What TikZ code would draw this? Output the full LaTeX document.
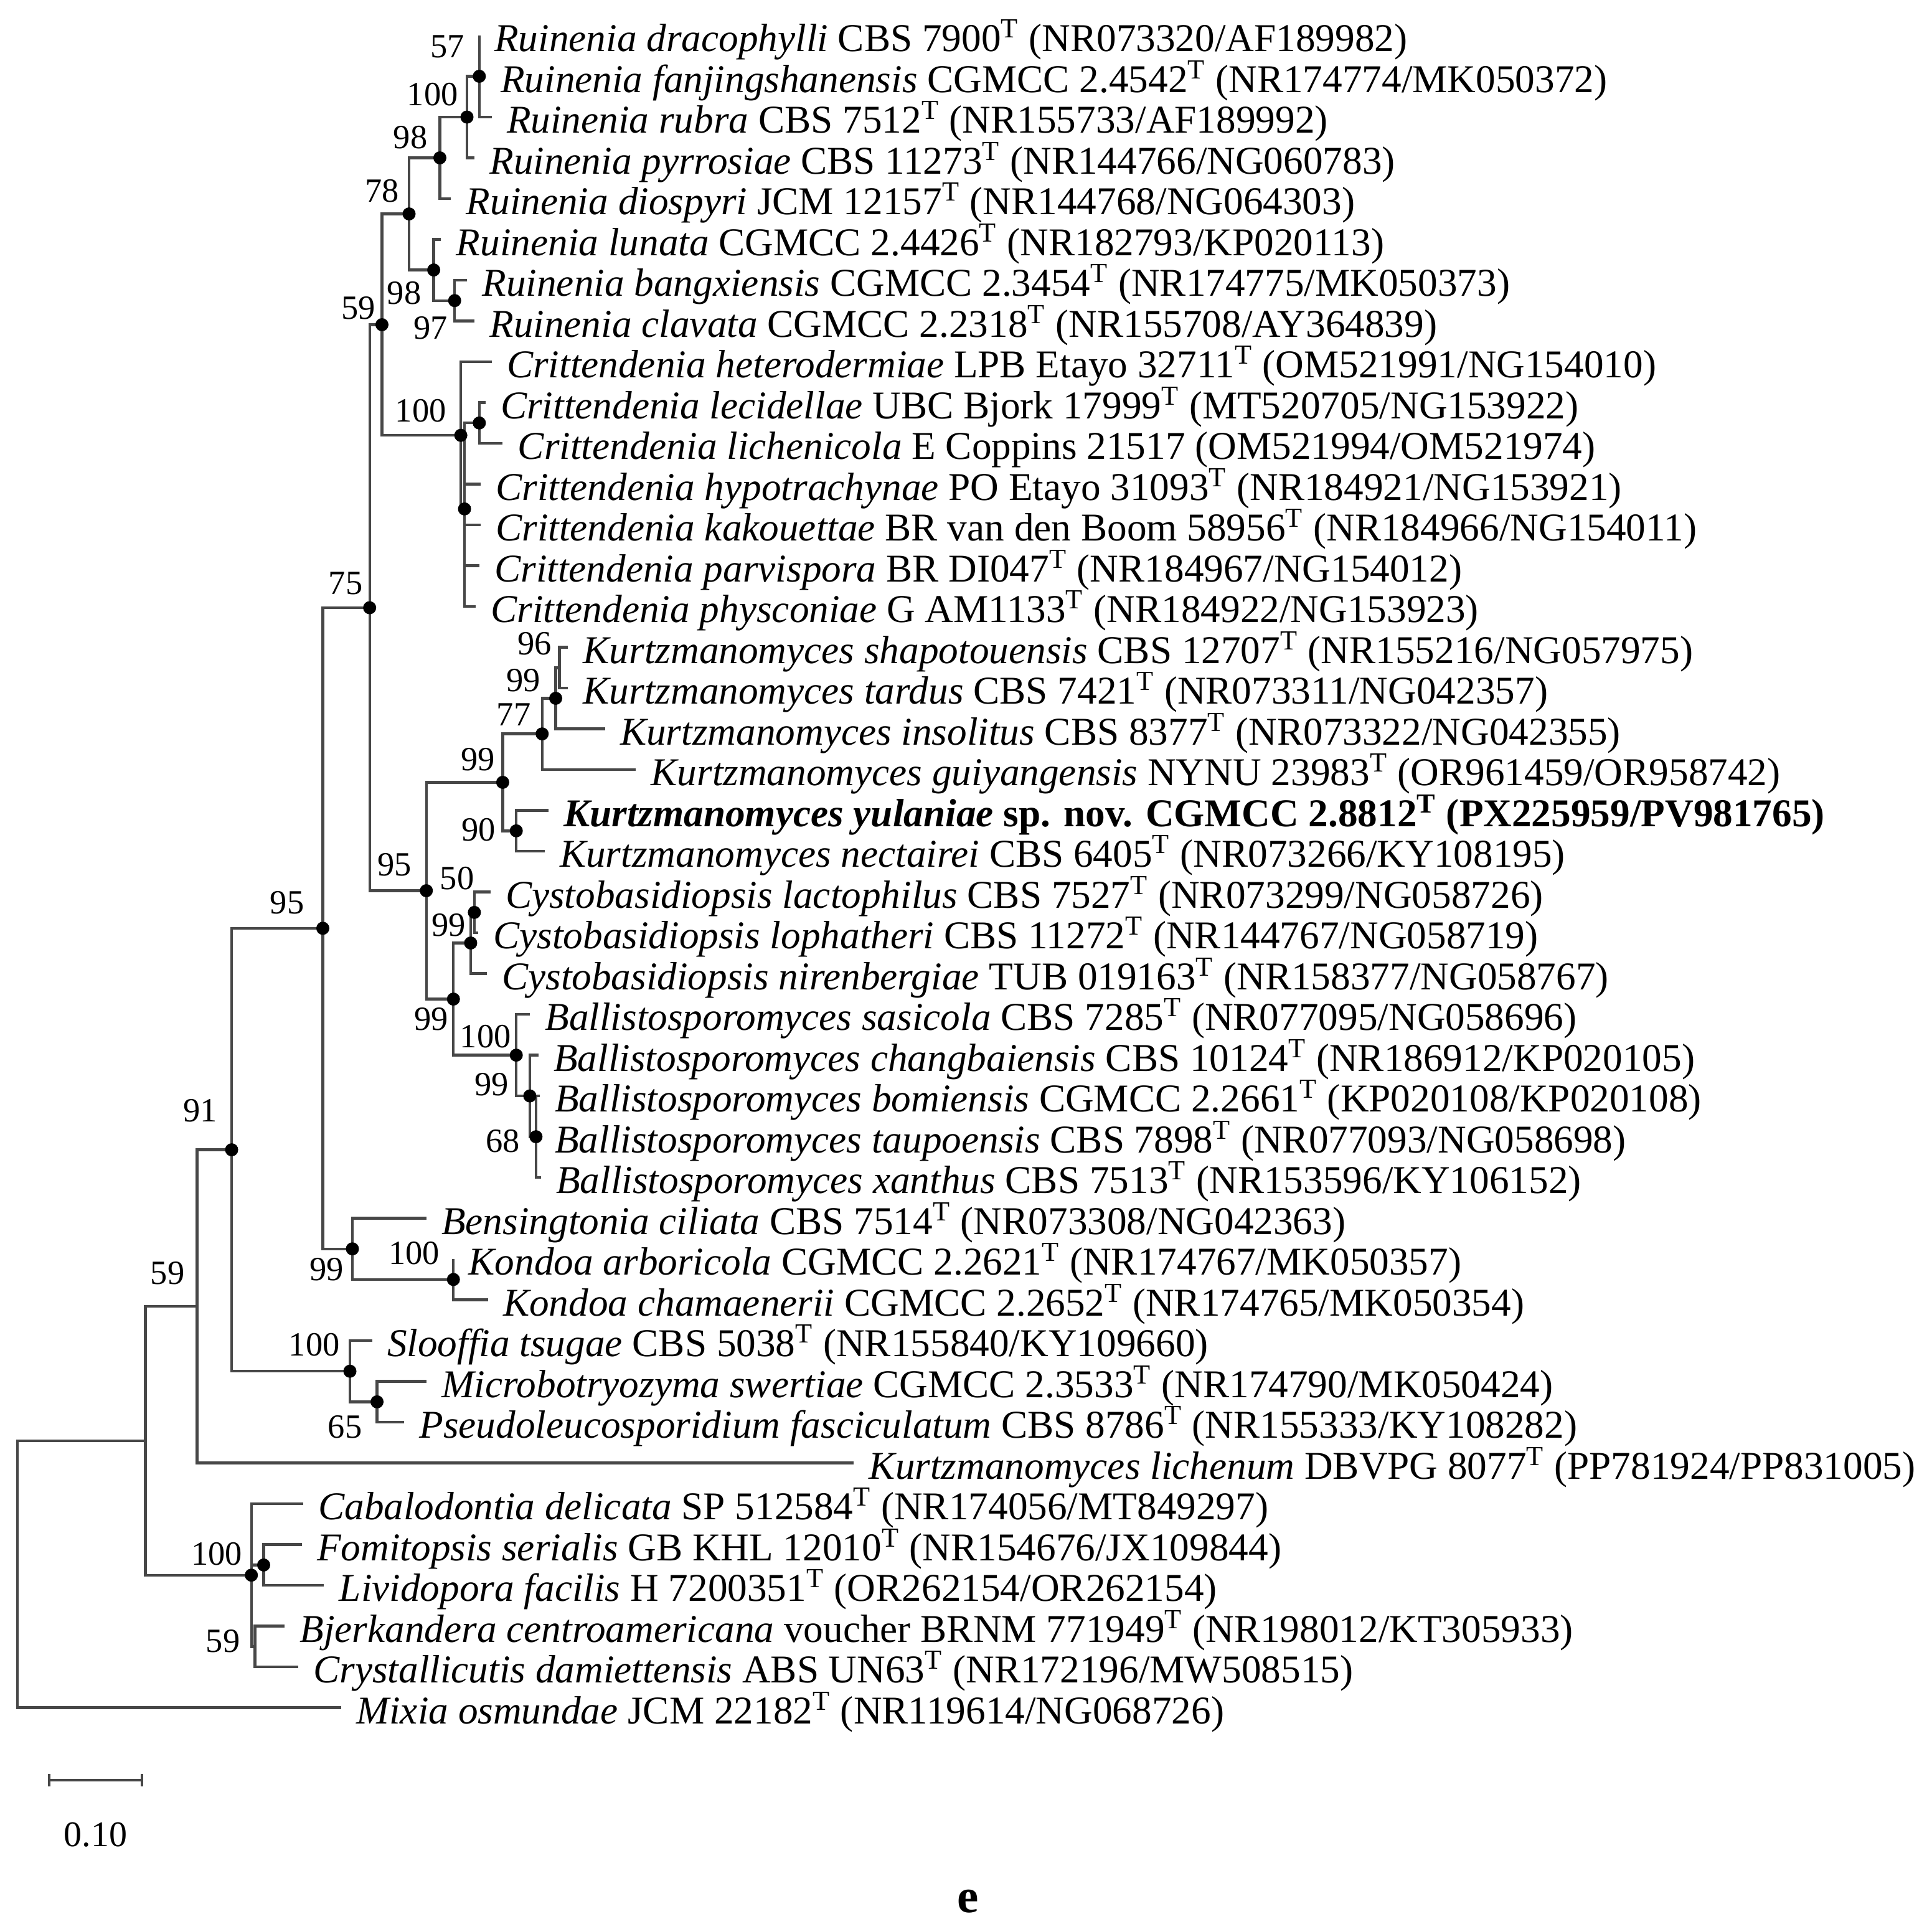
\documentclass[tikz,border=0pt]{standalone}
\usepackage{fontspec}
\setmainfont{Liberation Serif}
\usetikzlibrary{arrows.meta}
\newcommand{\typT}{\textsuperscript{T}}

\begin{document}
\begin{tikzpicture}[x=0.01979cm, y=-0.01979cm,
	branch/.style={draw=black!72, line width=1.25pt},
	taxon/.style={anchor=base west, inner sep=0pt, xshift=0.2375cm, yshift=-0.257cm, font=\fontsize{18}{20}\selectfont},
	support/.style={inner sep=0pt, font=\fontsize{15.5}{17}\selectfont},
	nodedot/.style={fill=black}]
	\fill[white] (0,0) rectangle (1568,1561);
	\useasboundingbox (0,0) rectangle (1568,1561);

	% tips
	\coordinate (t1) at (389,28.8);
	\coordinate (t2) at (394,61.9);
	\coordinate (t3) at (399,95.0);
	\coordinate (t4) at (385,128.1);
	\coordinate (t5) at (366,161.2);
	\coordinate (t6) at (358,194.3);
	\coordinate (t7) at (379,227.4);
	\coordinate (t8) at (385,260.5);
	\coordinate (t9) at (399,293.6);
	\coordinate (t10) at (394,326.7);
	\coordinate (t11) at (408,359.8);
	\coordinate (t12) at (390,392.9);
	\coordinate (t13) at (390,426.0);
	\coordinate (t14) at (389,459.1);
	\coordinate (t15) at (386,492.2);
	\coordinate (t16) at (461,525.3);
	\coordinate (t17) at (461,558.4);
	\coordinate (t18) at (491,591.5);
	\coordinate (t19) at (516,624.6);
	\coordinate (t20) at (445,657.7);
	\coordinate (t21) at (442,690.8);
	\coordinate (t22) at (398,723.9);
	\coordinate (t23) at (388,757.0);
	\coordinate (t24) at (395,790.1);
	\coordinate (t25) at (430,823.2);
	\coordinate (t26) at (437,856.3);
	\coordinate (t27) at (438,889.4);
	\coordinate (t28) at (438,922.5);
	\coordinate (t29) at (439,955.6);
	\coordinate (t30) at (346,988.7);
	\coordinate (t31) at (368,1021.8);
	\coordinate (t32) at (396,1054.9);
	\coordinate (t33) at (302,1088.0);
	\coordinate (t34) at (346,1121.1);
	\coordinate (t35) at (328,1154.2);
	\coordinate (t36) at (693,1187.3);
	\coordinate (t37) at (246,1220.4);
	\coordinate (t38) at (245,1253.5);
	\coordinate (t39) at (263,1286.6);
	\coordinate (t40) at (231,1319.7);
	\coordinate (t41) at (242,1352.8);
	\coordinate (t42) at (277,1385.9);

	% inner nodes
	\coordinate (n57) at (389,61.9);
	\coordinate (n100a) at (379,95.0);
	\coordinate (n98a) at (357,128.1);
	\coordinate (n97) at (369,243.95);
	\coordinate (n98b) at (352,219.1);
	\coordinate (n78) at (332,173.6);
	\coordinate (nCi) at (389,343.25);
	\coordinate (nCx) at (377,413);
	\coordinate (n100c) at (374,353.3);
	\coordinate (n59a) at (310,263.5);
	\coordinate (n96) at (454,541.85);
	\coordinate (n99a) at (451,566.7);
	\coordinate (n77) at (440,595.6);
	\coordinate (n90) at (419,674.25);
	\coordinate (n99b) at (408,634.9);
	\coordinate (n50) at (385,740.45);
	\coordinate (n99c) at (382,765.3);
	\coordinate (n68) at (435,922.5);
	\coordinate (n99d) at (430,889.4);
	\coordinate (n100d) at (419,856.3);
	\coordinate (n99e) at (368,810.8);
	\coordinate (n95a) at (346,722.85);
	\coordinate (n75) at (300,493.2);
	\coordinate (n100e) at (368,1038.35);
	\coordinate (n99f) at (286,1013.5);
	\coordinate (n95b) at (262,753.35);
	\coordinate (n65) at (306,1137.65);
	\coordinate (n100f) at (284,1112.8);
	\coordinate (n91) at (188,933.1);
	\coordinate (nC) at (160,1060.2);
	\coordinate (nFL) at (214,1270.05);
	\coordinate (nBC) at (207,1336.25);
	\coordinate (n100g) at (204,1278.3);
	\coordinate (nB) at (118,1169.25);
	\coordinate (root) at (14,1277.6);

	% branches
	\draw[branch] (root) |- (nB) (root) |- (t42);
	\draw[branch] (nB) |- (nC) (nB) |- (n100g);
	\draw[branch] (nC) |- (n91) (nC) |- (t36);
	\draw[branch] (n91) |- (n95b) (n91) |- (n100f);
	\draw[branch] (n95b) |- (n75) (n95b) |- (n99f);
	\draw[branch] (n75) |- (n59a) (n75) |- (n95a);
	\draw[branch] (n59a) |- (n78) (n59a) |- (n100c);
	\draw[branch] (n78) |- (n98a) (n78) |- (n98b);
	\draw[branch] (n98a) |- (n100a) (n98a) |- (t5);
	\draw[branch] (n100a) |- (n57) (n100a) |- (t4);
	\draw[branch] (n57) |- (t1) (n57) |- (t2) (n57) |- (t3);
	\draw[branch] (n98b) |- (t6) (n98b) |- (n97);
	\draw[branch] (n97) |- (t7) (n97) |- (t8);
	\draw[branch] (n100c) |- (t9) (n100c) |- (nCx);
	\draw[branch] (nCx) |- (nCi) (nCx) |- (t12) (nCx) |- (t13) (nCx) |- (t14) (nCx) |- (t15);
	\draw[branch] (nCi) |- (t10) (nCi) |- (t11);
	\draw[branch] (n95a) |- (n99b) (n95a) |- (n99e);
	\draw[branch] (n99b) |- (n77) (n99b) |- (n90);
	\draw[branch] (n77) |- (n99a) (n77) |- (t19);
	\draw[branch] (n99a) |- (n96) (n99a) |- (t18);
	\draw[branch] (n96) |- (t16) (n96) |- (t17);
	\draw[branch] (n90) |- (t20) (n90) |- (t21);
	\draw[branch] (n99e) |- (n99c) (n99e) |- (n100d);
	\draw[branch] (n99c) |- (n50) (n99c) |- (t24);
	\draw[branch] (n50) |- (t22) (n50) |- (t23);
	\draw[branch] (n100d) |- (t25) (n100d) |- (n99d);
	\draw[branch] (n99d) |- (t26) (n99d) |- (n68);
	\draw[branch] (n68) |- (t27) (n68) |- (t28) (n68) |- (t29);
	\draw[branch] (n99f) |- (t30) (n99f) |- (n100e);
	\draw[branch] (n100e) |- (t31) (n100e) |- (t32);
	\draw[branch] (n100f) |- (t33) (n100f) |- (n65);
	\draw[branch] (n65) |- (t34) (n65) |- (t35);
	\draw[branch] (n100g) |- (t37) (n100g) |- (nFL) (n100g) |- (nBC);
	\draw[branch] (nFL) |- (t38) (nFL) |- (t39);
	\draw[branch] (nBC) |- (t40) (nBC) |- (t41);

	\fill[nodedot] (n57) circle (0.105cm) (n100a) circle (0.105cm) (n98a) circle (0.105cm)
		(n78) circle (0.105cm) (n98b) circle (0.105cm) (n97) circle (0.105cm)
		(n59a) circle (0.105cm) (n100c) circle (0.105cm) (nCi) circle (0.105cm)
		(nCx) circle (0.105cm) (n75) circle (0.105cm) (n99a) circle (0.105cm)
		(n77) circle (0.105cm) (n99b) circle (0.105cm) (n90) circle (0.105cm)
		(n95a) circle (0.105cm) (n50) circle (0.105cm) (n99c) circle (0.105cm)
		(n99e) circle (0.105cm) (n100d) circle (0.105cm) (n99d) circle (0.105cm)
		(n68) circle (0.105cm) (n99f) circle (0.105cm) (n100e) circle (0.105cm)
		(n100f) circle (0.105cm) (n65) circle (0.105cm) (n95b) circle (0.105cm)
		(n91) circle (0.105cm) (n100g) circle (0.105cm) (nFL) circle (0.105cm);

	% support values
	\node[support] (s57) at (363,38) {57};
	\node[support] (s100a) at (351,76.7) {100};
	\node[support] (s98a) at (333,111.5) {98};
	\node[support] (s78) at (310,155) {78};
	\node[support] (s59a) at (291,250) {59};
	\node[support] (s98b) at (328,238) {98};
	\node[support] (s97) at (349.5,266) {97};
	\node[support] (s100c) at (341.5,333.5) {100};
	\node[support] (s75) at (280.5,473.5) {75};
	\node[support] (s96) at (433.7,522.5) {96};
	\node[support] (s99a) at (424.8,552.4) {99};
	\node[support] (s77) at (416.9,579.8) {77};
	\node[support] (s99b) at (387.8,616.4) {99};
	\node[support] (s90) at (388.2,673.2) {90};
	\node[support] (s95a) at (320,701.5) {95};
	\node[support] (s50) at (371,713) {50};
	\node[support] (s99c) at (364,751) {99};
	\node[support] (s99e) at (350,827) {99};
	\node[support] (s100d) at (394,841) {100};
	\node[support] (s99d) at (399,880) {99};
	\node[support] (s68) at (408,926) {68};
	\node[support] (s95b) at (233,732.5) {95};
	\node[support] (s99f) at (265,1030) {99};
	\node[support] (s100e) at (336,1017) {100};
	\node[support] (s91) at (162.6,901.5) {91};
	\node[support] (s100f) at (255,1091.5) {100};
	\node[support] (s65) at (280,1158) {65};
	\node[support] (s59c) at (136,1033) {59};
	\node[support] (s100g) at (176,1261) {100};
	\node[support] (s59bc) at (181,1332) {59};

	% taxa
	\node[taxon] (L1) at (t1) {\textit{Ruinenia dracophylli} CBS 7900\typT{} (NR073320/AF189982)};
	\node[taxon] (L2) at (t2) {\textit{Ruinenia fanjingshanensis} CGMCC 2.4542\typT{} (NR174774/MK050372)};
	\node[taxon] (L3) at (t3) {\textit{Ruinenia rubra} CBS 7512\typT{} (NR155733/AF189992)};
	\node[taxon] (L4) at (t4) {\textit{Ruinenia pyrrosiae} CBS 11273\typT{} (NR144766/NG060783)};
	\node[taxon] (L5) at (t5) {\textit{Ruinenia diospyri} JCM 12157\typT{} (NR144768/NG064303)};
	\node[taxon] (L6) at (t6) {\textit{Ruinenia lunata} CGMCC 2.4426\typT{} (NR182793/KP020113)};
	\node[taxon] (L7) at (t7) {\textit{Ruinenia bangxiensis} CGMCC 2.3454\typT{} (NR174775/MK050373)};
	\node[taxon] (L8) at (t8) {\textit{Ruinenia clavata} CGMCC 2.2318\typT{} (NR155708/AY364839)};
	\node[taxon] (L9) at (t9) {\textit{Crittendenia heterodermiae} LPB Etayo 32711\typT{} (OM521991/NG154010)};
	\node[taxon] (L10) at (t10) {\textit{Crittendenia lecidellae} UBC Bjork 17999\typT{} (MT520705/NG153922)};
	\node[taxon] (L11) at (t11) {\textit{Crittendenia lichenicola} E Coppins 21517 (OM521994/OM521974)};
	\node[taxon] (L12) at (t12) {\textit{Crittendenia hypotrachynae} PO Etayo 31093\typT{} (NR184921/NG153921)};
	\node[taxon] (L13) at (t13) {\textit{Crittendenia kakouettae} BR van den Boom 58956\typT{} (NR184966/NG154011)};
	\node[taxon] (L14) at (t14) {\textit{Crittendenia parvispora} BR DI047\typT{} (NR184967/NG154012)};
	\node[taxon] (L15) at (t15) {\textit{Crittendenia physconiae} G AM1133\typT{} (NR184922/NG153923)};
	\node[taxon] (L16) at (t16) {\textit{Kurtzmanomyces shapotouensis} CBS 12707\typT{} (NR155216/NG057975)};
	\node[taxon] (L17) at (t17) {\textit{Kurtzmanomyces tardus} CBS 7421\typT{} (NR073311/NG042357)};
	\node[taxon] (L18) at (t18) {\textit{Kurtzmanomyces insolitus} CBS 8377\typT{} (NR073322/NG042355)};
	\node[taxon] (L19) at (t19) {\textit{Kurtzmanomyces guiyangensis} NYNU 23983\typT{} (OR961459/OR958742)};
	\node[taxon] (L20) at (t20) {\textbf{\textit{Kurtzmanomyces yulaniae} sp. nov. CGMCC 2.8812\typT{} (PX225959/PV981765)}};
	\node[taxon] (L21) at (t21) {\textit{Kurtzmanomyces nectairei} CBS 6405\typT{} (NR073266/KY108195)};
	\node[taxon] (L22) at (t22) {\textit{Cystobasidiopsis lactophilus} CBS 7527\typT{} (NR073299/NG058726)};
	\node[taxon] (L23) at (t23) {\textit{Cystobasidiopsis lophatheri} CBS 11272\typT{} (NR144767/NG058719)};
	\node[taxon] (L24) at (t24) {\textit{Cystobasidiopsis nirenbergiae} TUB 019163\typT{} (NR158377/NG058767)};
	\node[taxon] (L25) at (t25) {\textit{Ballistosporomyces sasicola} CBS 7285\typT{} (NR077095/NG058696)};
	\node[taxon] (L26) at (t26) {\textit{Ballistosporomyces changbaiensis} CBS 10124\typT{} (NR186912/KP020105)};
	\node[taxon] (L27) at (t27) {\textit{Ballistosporomyces bomiensis} CGMCC 2.2661\typT{} (KP020108/KP020108)};
	\node[taxon] (L28) at (t28) {\textit{Ballistosporomyces taupoensis} CBS 7898\typT{} (NR077093/NG058698)};
	\node[taxon] (L29) at (t29) {\textit{Ballistosporomyces xanthus} CBS 7513\typT{} (NR153596/KY106152)};
	\node[taxon] (L30) at (t30) {\textit{Bensingtonia ciliata} CBS 7514\typT{} (NR073308/NG042363)};
	\node[taxon] (L31) at (t31) {\textit{Kondoa arboricola} CGMCC 2.2621\typT{} (NR174767/MK050357)};
	\node[taxon] (L32) at (t32) {\textit{Kondoa chamaenerii} CGMCC 2.2652\typT{} (NR174765/MK050354)};
	\node[taxon] (L33) at (t33) {\textit{Slooffia tsugae} CBS 5038\typT{} (NR155840/KY109660)};
	\node[taxon] (L34) at (t34) {\textit{Microbotryozyma swertiae} CGMCC 2.3533\typT{} (NR174790/MK050424)};
	\node[taxon] (L35) at (t35) {\textit{Pseudoleucosporidium fasciculatum} CBS 8786\typT{} (NR155333/KY108282)};
	\node[taxon] (L36) at (t36) {\textit{Kurtzmanomyces lichenum} DBVPG 8077\typT{} (PP781924/PP831005)};
	\node[taxon] (L37) at (t37) {\textit{Cabalodontia delicata} SP 512584\typT{} (NR174056/MT849297)};
	\node[taxon] (L38) at (t38) {\textit{Fomitopsis serialis} GB KHL 12010\typT{} (NR154676/JX109844)};
	\node[taxon] (L39) at (t39) {\textit{Lividopora facilis} H 7200351\typT{} (OR262154/OR262154)};
	\node[taxon] (L40) at (t40) {\textit{Bjerkandera centroamericana} voucher BRNM 771949\typT{} (NR198012/KT305933)};
	\node[taxon] (L41) at (t41) {\textit{Crystallicutis damiettensis} ABS UN63\typT{} (NR172196/MW508515)};
	\node[taxon] (L42) at (t42) {\textit{Mixia osmundae} JCM 22182\typT{} (NR119614/NG068726)};

	% scale bar
	\coordinate (sb1) at (38.7,1444.7);
	\coordinate (sb2) at (116.2,1444.7);
	\draw[branch, {Bar[width=0.2cm]}-{Bar[width=0.2cm]}] (sb1) -- (sb2);
	\node[font=\fontsize{16.5}{18}\selectfont, inner sep=0pt] (sblabel) at (77.5,1489) {0.10};

	\node[font=\fontsize{22}{24}\selectfont\bfseries, inner sep=0pt] (panel) at (785.6,1543) {e};
\end{tikzpicture}
\end{document}
